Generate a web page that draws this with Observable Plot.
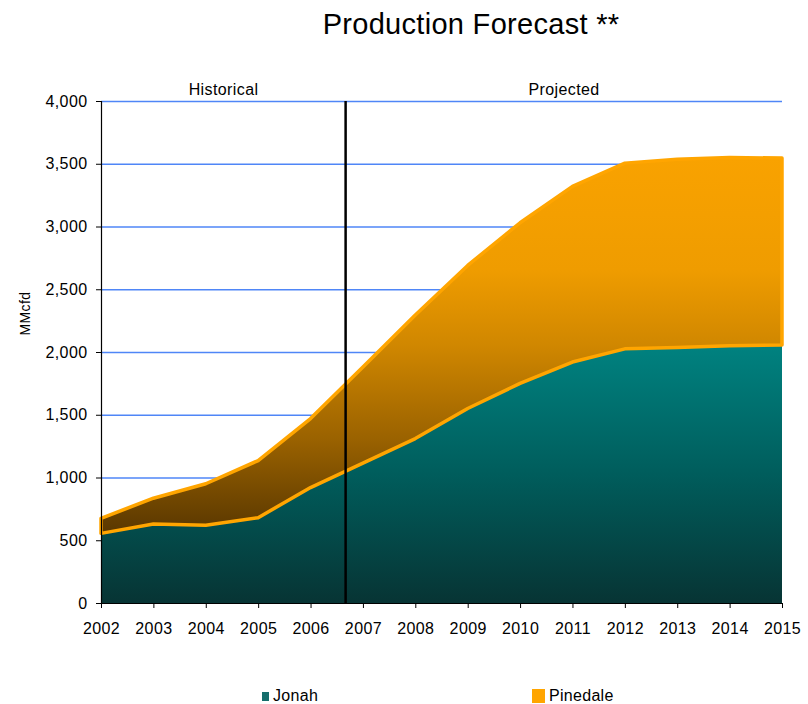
<!DOCTYPE html>
<html>
<head>
<meta charset="utf-8">
<script src="https://cdn.jsdelivr.net/npm/d3@7"></script>
<script src="https://cdn.jsdelivr.net/npm/@observablehq/plot@0.6"></script>
<style>
  html, body { margin: 0; padding: 0; background: #fff; }
  #chart { position: relative; width: 808px; height: 704px; overflow: hidden; font-family: Arial, "Liberation Sans", sans-serif; color: #000; }
  #chart svg { position: absolute; left: 0; top: 0; }
  .title { position: absolute; left: 0; width: 942px; top: 10px; text-align: center; font-size: 29px; line-height: 29px; white-space: nowrap; letter-spacing: 0.3px; }
  .legend { position: absolute; top: 688px; font-size: 16px; line-height: 16px; white-space: nowrap; letter-spacing: 0.3px; }
  .legend .swatch { display: inline-block; vertical-align: baseline; margin-right: 4px; }
</style>
</head>
<body>
<div id="chart">
  <div class="title">Production Forecast **</div>
</div>
<script>
// Annual gas production, MMcfd
const years = [2002, 2003, 2004, 2005, 2006, 2007, 2008, 2009, 2010, 2011, 2012, 2013, 2014, 2015];
const jonah = [555, 630, 620, 680, 920, 1115, 1310, 1550, 1750, 1920, 2025, 2035, 2050, 2055];
const pinedale = [120, 205, 330, 455, 550, 765, 985, 1140, 1280, 1400, 1480, 1500, 1500, 1490];
const seriesNames = ["Jonah", "Pinedale"];
const yTicks = [0, 500, 1000, 1500, 2000, 2500, 3000, 3500, 4000];
const forecastStart = 2006.66;
const periodNames = ["Historical", "Projected"];
const yLabel = "MMcfd";

// Stack Pinedale on top of Jonah
const rows = years.map((year, i) => ({year, jonah: jonah[i], top: jonah[i] + pinedale[i]}));
const xDomain = [years[0], years[years.length - 1]];
const periods = [
  {label: periodNames[0], mid: (xDomain[0] + forecastStart) / 2},
  {label: periodNames[1], mid: (forecastStart + xDomain[1]) / 2}
];

const font = 'Arial, "Liberation Sans", sans-serif';

const plot = Plot.plot({
  width: 808,
  height: 650,
  marginLeft: 101,
  marginRight: 26,
  marginTop: 101,
  marginBottom: 47,
  style: {fontFamily: font, fontSize: "16px", color: "#000", background: "transparent", overflow: "visible", letterSpacing: "0.4px"},
  x: {domain: xDomain, ticks: years, tickFormat: d => String(d), tickSize: 5, tickPadding: 14, label: null},
  y: {domain: [0, 4000], ticks: yTicks, tickFormat: d3.format(","), tickSize: 5, tickPadding: 9, label: null},
  marks: [
    Plot.ruleY(yTicks.filter(d => d > 0), {stroke: "#4F86F7", strokeWidth: 1.6}),
    Plot.areaY(rows, {x: "year", y1: 0, y2: "jonah", fill: "url(#jonah-fill)"}),
    Plot.areaY(rows, {x: "year", y1: "jonah", y2: "top", fill: "url(#pinedale-fill)", stroke: "#FFA500", strokeWidth: 3.5, strokeLinejoin: "round"}),
    Plot.ruleX([forecastStart], {stroke: "#000", strokeWidth: 2.5}),
    Plot.ruleX([xDomain[0]], {stroke: "#000", strokeWidth: 1.2}),
    Plot.ruleY([0], {stroke: "#000", strokeWidth: 1.2}),
    Plot.text(periods, {x: "mid", y: 4000, text: "label", lineAnchor: "bottom", dy: -7, fontSize: 16}),
    Plot.text([yLabel], {frameAnchor: "left", dx: -76, dy: -17, rotate: -90, fontSize: 14})
  ]
});

// Vertical gradients spanning each series' extent
const y = plot.scale("y");
const defs = d3.select(plot).insert("defs", ":first-child");
function gradient(id, y1, y2, stops) {
  const g = defs.append("linearGradient")
    .attr("id", id)
    .attr("gradientUnits", "userSpaceOnUse")
    .attr("x1", 0).attr("x2", 0)
    .attr("y1", y1).attr("y2", y2);
  stops.forEach(([offset, color]) => g.append("stop").attr("offset", offset).attr("stop-color", color));
}
gradient("jonah-fill", y.apply(d3.max(jonah)), y.apply(0), [
  [0, "#008280"], [0.5, "#005d5c"], [1, "#073434"]
]);
gradient("pinedale-fill", y.apply(d3.max(rows, d => d.top)), y.apply(d3.min(jonah)), [
  [0, "#F9A200"], [0.3, "#EF9C00"], [0.5, "#D08700"], [0.75, "#9A6200"], [1, "#593700"]
]);

const chart = document.getElementById("chart");
chart.appendChild(plot);

// Legend
const legendItems = [
  {name: seriesNames[0], left: 262, swatch: '<span class="swatch" style="width:7px;height:9px;background:#156e6c;"></span>'},
  {name: seriesNames[1], left: 532, swatch: '<span class="swatch" style="width:13px;height:14px;background:#FFA500;margin-bottom:-2px;"></span>'}
];
for (const item of legendItems) {
  const el = document.createElement("div");
  el.className = "legend";
  el.style.left = item.left + "px";
  el.innerHTML = item.swatch + item.name;
  chart.appendChild(el);
}
</script>
</body>
</html>
